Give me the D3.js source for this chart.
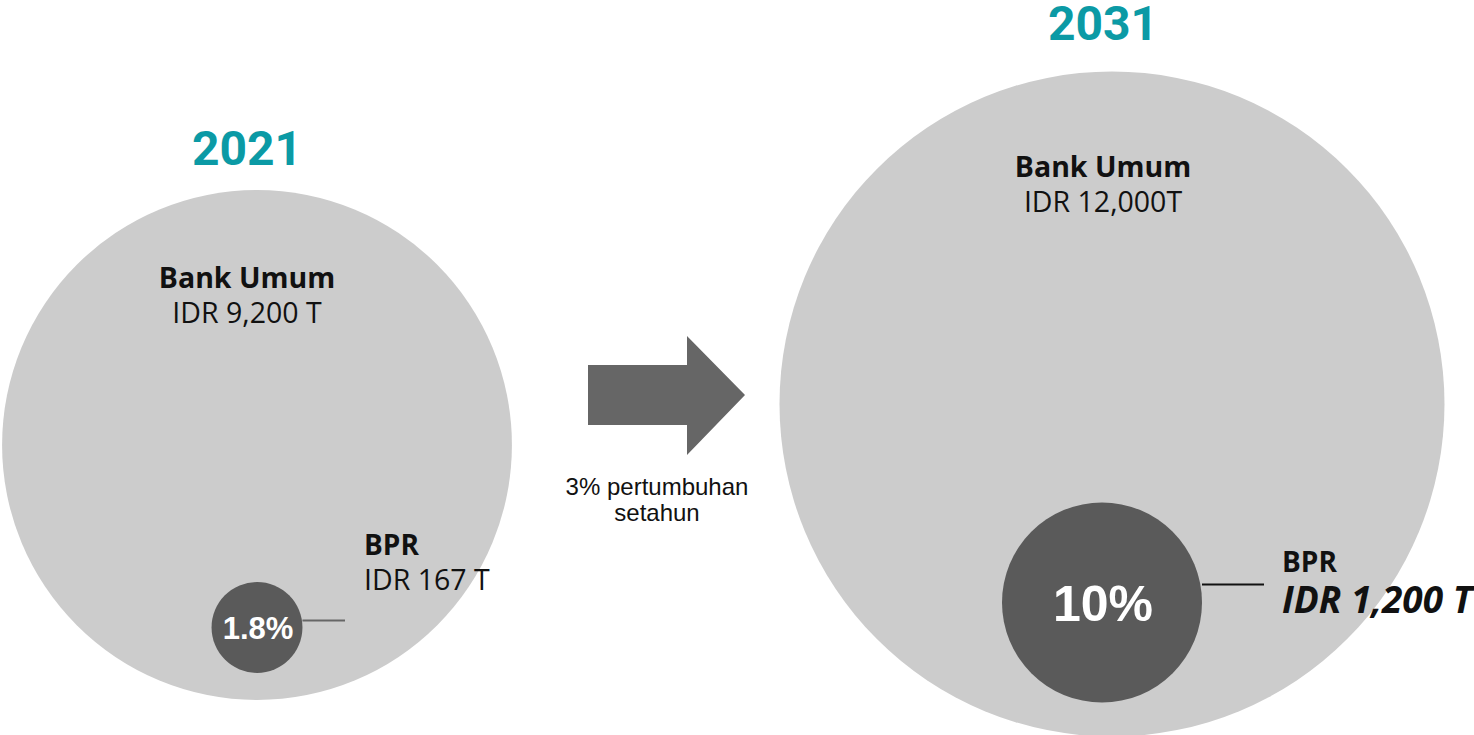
<!DOCTYPE html>
<html>
<head>
<meta charset="utf-8">
<script src="https://cdn.jsdelivr.net/npm/d3@7.8.5/dist/d3.min.js"></script>
<style>
  html, body { margin: 0; padding: 0; background: #fff; }
  svg { display: block; }
</style>
</head>
<body>
<div id="chart"></div>
<script>
// Data
const years = ['2021', '2031'];
const bankUmum = [9200, 12000];          // IDR triliun
const bpr = [167, 1200];                 // IDR triliun
const bankLabels = ['IDR 9,200 T', 'IDR 12,000T'];
const bprLabels = ['IDR 167 T', 'IDR 1,200 T'];
const bprShares = ['1.8%', '10%'];
const growthText = ['3% pertumbuhan', 'setahun'];

const width = 1474, height = 735;
const teal = '#0b9aa5';

// Layout of each panel (centres of the big circle, offsets of the BPR circle, label spots)
const layout = [
  { cx: 257, cy: 445, dx: 0, gap: 27, yearY: 165, yearX: 247, bankX: 247, bankY: 288,
    bprX: 364, bprY: 555, leaderTo: 345, leaderDy: -7, leaderColor: '#666',
    valueStyle: 'normal', valueWeight: 400, valueSize: 28.5, valueGap: 35, shareSize: 31 },
  { cx: 1112, cy: 404, dx: -10, gap: 34, yearY: 40, yearX: 1103, bankX: 1103, bankY: 177,
    bprX: 1282, bprY: 572, leaderTo: 1264, leaderDy: -18, leaderColor: '#111',
    valueStyle: 'italic', valueWeight: 700, valueSize: 37, valueGap: 41, shareSize: 50 }
];

const rBank = d3.scaleLinear().domain([0, 12000]).range([0, 332.5]);
const rBpr = d3.scalePow().exponent(0.4).domain([0, 1200]).range([0, 100]);

const svg = d3.select('#chart').append('svg')
  .attr('width', width)
  .attr('height', height);

const panels = years.map((y, i) => {
  const L = layout[i];
  const R = rBank(bankUmum[i]);
  const r = rBpr(bpr[i]);
  return {
    year: y, L, R, r,
    sx: L.cx + L.dx,
    sy: L.cy + R - r - L.gap,
    i
  };
});

const g = svg.selectAll('g.panel')
  .data(panels)
  .enter()
  .append('g')
  .attr('class', 'panel');

// Big circle (Bank Umum)
g.append('circle')
  .attr('cx', d => d.L.cx)
  .attr('cy', d => d.L.cy)
  .attr('r', d => d.R)
  .style('fill', '#cccccc');

// Year heading
g.append('text')
  .attr('x', d => d.L.yearX)
  .attr('y', d => d.L.yearY)
  .attr('text-anchor', 'middle')
  .style('font-family', 'Roboto, sans-serif')
  .style('font-weight', 700)
  .style('font-size', '48px')
  .style('fill', teal)
  .text(d => d.year);

// Bank Umum labels
g.append('text')
  .attr('x', d => d.L.bankX)
  .attr('y', d => d.L.bankY)
  .attr('text-anchor', 'middle')
  .style('font-family', '"Open Sans", sans-serif')
  .style('font-weight', 700)
  .style('font-size', '28.5px')
  .style('fill', '#111')
  .text('Bank Umum');

g.append('text')
  .attr('x', d => d.L.bankX)
  .attr('y', d => d.L.bankY + 35)
  .attr('text-anchor', 'middle')
  .style('font-family', '"Open Sans", sans-serif')
  .style('font-weight', 400)
  .style('font-size', '28.5px')
  .style('fill', '#111')
  .text(d => bankLabels[d.i]);

// Leader line from BPR circle
g.append('line')
  .attr('x1', d => d.sx + d.r)
  .attr('x2', d => d.L.leaderTo)
  .attr('y1', d => d.sy + d.L.leaderDy)
  .attr('y2', d => d.sy + d.L.leaderDy)
  .style('stroke', d => d.L.leaderColor)
  .style('stroke-width', 2);

// BPR circle
g.append('circle')
  .attr('cx', d => d.sx)
  .attr('cy', d => d.sy)
  .attr('r', d => d.r)
  .style('fill', '#5a5a5a');

// Share inside BPR circle
g.append('text')
  .attr('x', d => d.sx + 1)
  .attr('y', d => d.sy)
  .attr('dy', '0.36em')
  .attr('text-anchor', 'middle')
  .style('font-family', '"Liberation Sans", Arial, sans-serif')
  .style('font-weight', 700)
  .style('font-size', d => d.L.shareSize + 'px')
  .style('fill', '#fff')
  .text(d => bprShares[d.i]);

// BPR labels
g.append('text')
  .attr('x', d => d.L.bprX)
  .attr('y', d => d.L.bprY)
  .style('font-family', '"Open Sans", sans-serif')
  .style('font-weight', 700)
  .style('font-size', '28px')
  .style('fill', '#111')
  .text('BPR');

g.append('text')
  .attr('x', d => d.L.bprX)
  .attr('y', d => d.L.bprY + d.L.valueGap)
  .style('font-family', '"Open Sans", sans-serif')
  .style('font-weight', d => d.L.valueWeight)
  .style('font-style', d => d.L.valueStyle)
  .style('font-size', d => d.L.valueSize + 'px')
  .style('fill', '#111')
  .text(d => bprLabels[d.i]);

// Growth arrow between the panels
const arrow = d3.path();
arrow.moveTo(588, 365);
arrow.lineTo(687, 365);
arrow.lineTo(687, 336);
arrow.lineTo(745, 395);
arrow.lineTo(687, 455);
arrow.lineTo(687, 425);
arrow.lineTo(588, 425);
arrow.closePath();

svg.append('path')
  .attr('d', arrow.toString())
  .style('fill', '#666666');

svg.append('text')
  .attr('x', 657)
  .attr('y', 495)
  .attr('text-anchor', 'middle')
  .style('font-family', '"Liberation Sans", Arial, sans-serif')
  .style('font-size', '24px')
  .style('fill', '#111')
  .selectAll('tspan')
  .data(growthText)
  .enter()
  .append('tspan')
  .attr('x', 657)
  .attr('dy', (d, i) => i === 0 ? 0 : 26)
  .text(d => d);
</script>
</body>
</html>
